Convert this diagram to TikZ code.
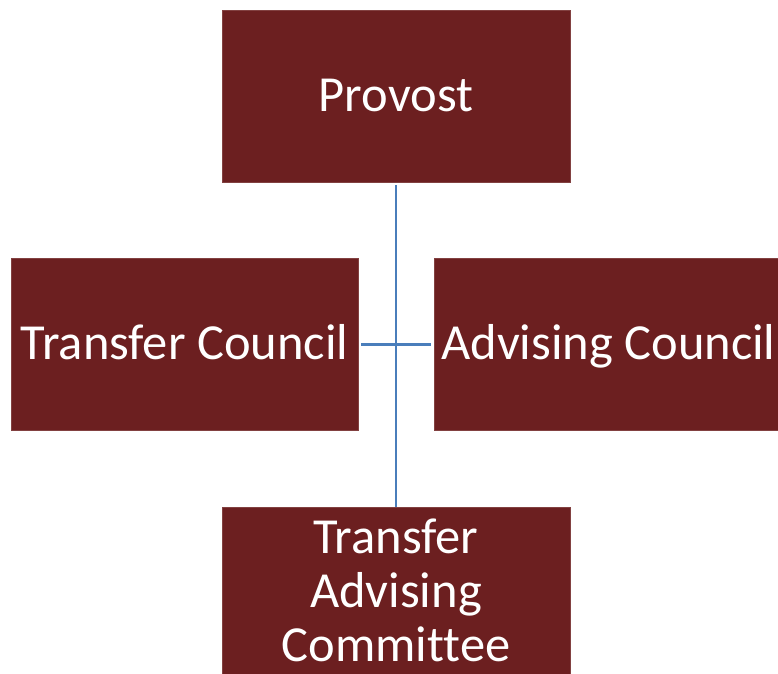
\documentclass[tikz,border=0pt]{standalone}
\usepackage{fontspec}
\setmainfont{Carlito}[Ligatures=NoCommon]
\definecolor{boxred}{HTML}{6C1F20}
\definecolor{linkblue}{HTML}{4A7EBB}
\begin{document}
\begin{tikzpicture}[x=1pt,y=-1pt,
  orgbox/.style={draw=boxred!85!white, line width=0.6pt, fill=boxred, inner sep=0pt},
  boxtext/.style={text=white, font=\fontsize{50.5}{54}\selectfont, align=center, inner sep=0pt},
  link/.style={draw=linkblue, line width=2.8pt, shorten <=3pt, shorten >=0pt}]
\useasboundingbox (0,0) rectangle (778,673);
\begin{scope}
\clip (0,0) rectangle (778,673);
\node[orgbox, minimum width=348pt, minimum height=172pt] (prov) at (396,96) {};
\node[orgbox, minimum width=347pt, minimum height=172pt] (tc) at (184.5,344.5) {};
\node[orgbox, minimum width=344pt, minimum height=172pt] (ac) at (606,344.5) {};
\node[orgbox, minimum width=348pt, minimum height=172pt] (tac) at (396,593) {};
\node[boxtext, anchor=base] (provt) at (396,111) {Provost};
\node[boxtext, anchor=base] (tct) at (184.5,359) {Transfer Council};
\node[boxtext, anchor=base] (act) at (608.5,359) {Advising Council};
\node[boxtext, anchor=base] (tact1) at (396,553) {Transfer};
\node[boxtext, anchor=base] (tact2) at (396,607) {Advising};
\node[boxtext, anchor=base] (tact3) at (396,661) {Committee};
\end{scope}
\draw[link] (prov.south) -- (tac.north);
\draw[link, shorten >=3pt] (tc.east) -- (ac.west);
\end{tikzpicture}
\end{document}
